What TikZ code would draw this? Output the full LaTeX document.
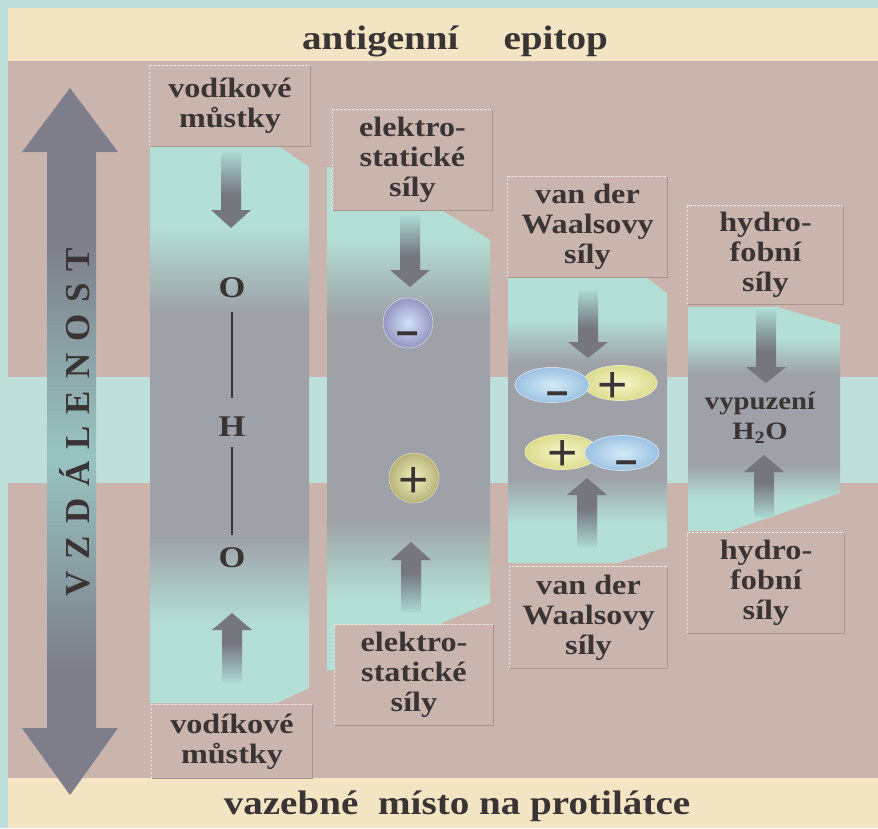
\documentclass[tikz,border=0pt]{standalone}
\usepackage{fontspec}
\setmainfont{Liberation Serif}[FakeStretch=1.15]
\newfontfamily\vertfont{Liberation Serif}[LetterSpace=34]
\newfontfamily\signfont{Liberation Sans}
\usetikzlibrary{shapes.geometric}

\definecolor{bgcyan}{HTML}{BFE0DA}
\definecolor{pinkc}{HTML}{C9B5AE}
\definecolor{beigec}{HTML}{F3E5C4}
\definecolor{tealc}{HTML}{B4DFD6}
\definecolor{greyc}{HTML}{9EA1A7}
\definecolor{arrowgrey}{HTML}{76767F}
\definecolor{arrowtop}{HTML}{ACD8D2}
\definecolor{dblgrey}{HTML}{7E7E8A}
\definecolor{dblteal}{HTML}{98C4C0}
\definecolor{txtc}{HTML}{3A3434}
\definecolor{boxlight}{HTML}{EDE3DF}
\definecolor{boxdark}{HTML}{A8948E}
\definecolor{minusout}{HTML}{9695C0}
\definecolor{minusin}{HTML}{D2E2F8}
\definecolor{plusout}{HTML}{B9B27A}
\definecolor{plusin}{HTML}{F0F1BE}
\definecolor{blueout}{HTML}{9CC2E2}
\definecolor{bluein}{HTML}{D4EAF6}
\definecolor{yelout}{HTML}{DCDC8E}
\definecolor{yelin}{HTML}{F6F6CC}

\pgfdeclareverticalshading{colshade}{100bp}{color(0bp)=(tealc); color(25bp)=(tealc); color(32bp)=(tealc); color(40bp)=(greyc); color(60bp)=(greyc); color(68bp)=(tealc); color(75bp)=(tealc); color(100bp)=(tealc)}
\pgfdeclareverticalshading{downshade}{100bp}{color(0bp)=(arrowgrey); color(25bp)=(arrowgrey); color(47bp)=(arrowgrey); color(75bp)=(arrowtop); color(100bp)=(arrowtop)}
\pgfdeclareverticalshading{upshade}{100bp}{color(0bp)=(arrowtop); color(25bp)=(arrowtop); color(53bp)=(arrowgrey); color(75bp)=(arrowgrey); color(100bp)=(arrowgrey)}
\pgfdeclareverticalshading{dblshade}{100bp}{color(0bp)=(dblgrey); color(25bp)=(dblgrey); color(34bp)=(dblgrey); color(49bp)=(dblteal); color(64bp)=(dblgrey); color(75bp)=(dblgrey); color(100bp)=(dblgrey)}

\newcommand{\colDownArrow}[4]{%
  \shade[shading=downshade] (#1-10,#2) -- (#1+10,#2) -- (#1+10,#3) -- (#1+20,#3) -- (#1,#4) -- (#1-20,#3) -- (#1-10,#3) -- cycle;}
\newcommand{\colUpArrow}[4]{%
  \shade[shading=upshade] (#1,#2) -- (#1+20,#3) -- (#1+10,#3) -- (#1+10,#4) -- (#1-10,#4) -- (#1-10,#3) -- (#1-20,#3) -- cycle;}
\newcommand{\boxEdges}[1]{%
  \draw[lightedge] (#1.south west) -- (#1.north west) -- (#1.north east);
  \draw[darkedge] (#1.north east) -- (#1.south east) -- (#1.south west);}

\begin{document}
\begin{tikzpicture}[x=1pt,y=-1pt,
  lbl/.style={font=\bfseries\fontsize{28}{30}\selectfont, text=txtc, align=center},
  labbox/.style={lbl, fill=pinkc, inner sep=0pt},
  titletext/.style={font=\bfseries\fontsize{34}{38}\selectfont, text=txtc, inner sep=0pt},
  atom/.style={font=\bfseries\fontsize{30}{30}\selectfont, text=txtc, inner sep=0pt},
  bond/.style={draw=txtc, line width=1.3pt},
  plussign/.style={font=\signfont\fontsize{52}{52}\selectfont, text=txtc, inner sep=0pt},
  minussign/.style={font=\signfont\bfseries\fontsize{40}{40}\selectfont, text=txtc, inner sep=0pt},
  lightedge/.style={draw=boxlight, line width=0.9pt, dash pattern=on 2.5pt off 1.5pt},
  darkedge/.style={draw=boxdark, line width=0.7pt},
  ion/.style={circle, minimum size=50pt, inner sep=0pt, draw=white!60!minusout, line width=0.6pt},
  dipole/.style={ellipse, minimum width=74pt, minimum height=35pt, inner sep=0pt, line width=0.8pt}]

\useasboundingbox (0,0) rectangle (878,828);
% background
\fill[bgcyan] (0,0) rectangle (878,828);
\fill[beigec] (8,8) rectangle (878,61);
\fill[pinkc] (8,61) rectangle (878,377);
\fill[pinkc] (8,483) rectangle (878,778);
\fill[beigec] (8,778) rectangle (878,828);

% titles
\node[titletext] (toptitle) at (455,41) {antigenní\hspace{45pt}epitop};
\node[titletext] (bottomtitle) at (457,806) {vazebné\hspace{10pt} místo na protilátce};

% teal columns
\shade[shading=colshade] (150,147) -- (280,147) -- (309,167) -- (309,688) -- (277,703) -- (150,703) -- cycle;
\shade[shading=colshade] (327,167) -- (443,167) -- (443,211) -- (490,240) -- (490,603) -- (442,623) -- (442,670) -- (327,670) -- cycle;
\shade[shading=colshade] (508,278) -- (647,278) -- (667,293) -- (667,547) -- (618,563) -- (508,563) -- cycle;
\shade[shading=colshade] (688,307) -- (777,307) -- (840,325) -- (840,493) -- (730,531) -- (688,531) -- cycle;

% label boxes
\node[labbox, minimum width=160pt, minimum height=80pt] (l1t) at (230,106) {vodíkové\\můstky};
\node[labbox, minimum width=159pt, minimum height=100pt] (l2t) at (412.5,160) {elektro-\\statické\\síly};
\node[labbox, minimum width=159pt, minimum height=100pt] (l3t) at (587.5,227) {van der\\Waalsovy\\síly};
\node[labbox, minimum width=155pt, minimum height=98pt] (l4t) at (765.5,255) {hydro-\\fobní\\síly};
\node[labbox, minimum width=160pt, minimum height=73pt] (l1b) at (232,741.5) {vodíkové\\můstky};
\node[labbox, minimum width=158pt, minimum height=100pt] (l2b) at (414,675) {elektro-\\statické\\síly};
\node[labbox, minimum width=157pt, minimum height=101pt] (l3b) at (588.5,617.5) {van der\\Waalsovy\\síly};
\node[labbox, minimum width=156pt, minimum height=100pt] (l4b) at (766,583) {hydro-\\fobní\\síly};
\boxEdges{l1t}\boxEdges{l2t}\boxEdges{l3t}\boxEdges{l4t}
\boxEdges{l1b}\boxEdges{l2b}\boxEdges{l3b}\boxEdges{l4b}

% arrows in columns
\colDownArrow{231}{152}{210}{228}
\colUpArrow{232}{613}{630}{682}
\colDownArrow{410}{215}{270}{287}
\colUpArrow{411}{542}{560}{612}
\colDownArrow{588}{290}{342}{358}
\colUpArrow{587}{478}{495}{547}
\colDownArrow{766}{309}{367}{383}
\colUpArrow{764}{455}{472}{517}

% column 1: O - H - O
\node[atom] (o1) at (232,288) {O};
\node[atom] (h1) at (232,427) {H};
\node[atom] (o2) at (232,558) {O};
\draw[bond, shorten <=24pt, shorten >=29pt] (o1.center) -- (h1.center);
\draw[bond, shorten <=20pt, shorten >=23pt] (h1.center) -- (o2.center);

% column 2: ions
\node[ion, inner color=minusin, outer color=minusout] (ionminus) at (408,323) {};
\node[minussign] (ionminussign) at (408,338) {–};
\node[ion, inner color=plusin, outer color=plusout, draw=white!50!plusout] (ionplus) at (414,478) {};
\node[plussign] (ionplussign) at (414,482) {+};

% column 3: dipoles
\node[dipole, inner color=yelin, outer color=yelout, draw=white!40!yelout] (d1p) at (620,383) {};
\node[dipole, inner color=bluein, outer color=blueout, draw=white!50!blueout] (d1m) at (552,385) {};
\node[minussign] (d1msign) at (558,398) {–};
\node[plussign] (d1psign) at (613,387) {+};
\node[dipole, inner color=yelin, outer color=yelout, draw=white!40!yelout] (d2p) at (562,452) {};
\node[dipole, inner color=bluein, outer color=blueout, draw=white!50!blueout] (d2m) at (622,453) {};
\node[plussign] (d2psign) at (563,455) {+};
\node[minussign] (d2msign) at (627,467) {–};

% column 4
\node[font=\bfseries\fontsize{25}{30}\selectfont, text=txtc, align=center, inner sep=0pt] (water) at (760,418) {vypuzení\\H\textsubscript{2}O};

% distance double arrow
\shade[shading=dblshade] (70,88) -- (118,152) -- (96,152) -- (96,728) -- (118,728) -- (70,795) -- (22,728) -- (47,728) -- (47,152) -- (22,152) -- cycle;
\node[rotate=90, font=\vertfont\bfseries\fontsize{35}{35}\selectfont, text=txtc, inner sep=0pt] (dist) at (75,422) {VZDÁLENOST};
\end{tikzpicture}
\end{document}
